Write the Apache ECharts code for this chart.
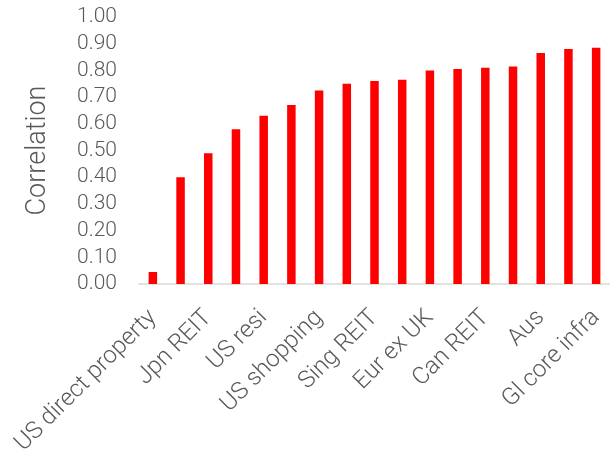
<!DOCTYPE html>
<html>
<head>
<meta charset="utf-8">
<script src="https://cdn.jsdelivr.net/npm/echarts@6/dist/echarts.min.js"></script>
<style>
  html, body { margin: 0; padding: 0; background: #ffffff; }
  #chart { width: 610px; height: 460px; }
</style>
</head>
<body>
<div id="chart"></div>
<script>
// Correlation of each market with the reference index, sorted ascending.
// Every second category name is shown on the axis.
const categories = [
  'US direct property', 'HK REIT', 'Jpn REIT', 'UK REIT', 'US resi', 'US office',
  'US shopping', 'US industrial', 'Sing REIT', 'US REIT', 'Eur ex UK', 'Eur REIT',
  'Can REIT', 'Gl REIT', 'Aus', 'Gl infra', 'Gl core infra'
];
const correlation = [
  0.045, 0.40, 0.49, 0.58, 0.63, 0.67, 0.725, 0.75, 0.76, 0.765,
  0.80, 0.805, 0.81, 0.815, 0.865, 0.88, 0.885
];
const yTicks = { min: 0, max: 1, interval: 0.1 };

const chart = echarts.init(document.getElementById('chart'), null, { renderer: 'canvas' });
const textColor = '#595959';
const font = 'Roboto, "Liberation Sans", sans-serif';

chart.setOption({
  animation: false,
  backgroundColor: '#ffffff',
  grid: { left: 139, right: -5, top: 17, bottom: 176, containLabel: false },
  xAxis: {
    type: 'category',
    data: categories,
    axisLine: { show: true, lineStyle: { color: '#d9d9d9', width: 1.5 } },
    axisTick: { show: false },
    axisLabel: {
      interval: 1,
      rotate: 45,
      margin: 30,
      color: textColor,
      fontFamily: font,
      fontWeight: 300,
      fontSize: 24
    }
  },
  yAxis: {
    type: 'value',
    min: yTicks.min,
    max: yTicks.max,
    interval: yTicks.interval,
    name: 'Correlation',
    nameLocation: 'middle',
    nameGap: 87,
    nameRotate: 90,
    nameTextStyle: { color: textColor, fontFamily: font, fontWeight: 300, fontSize: 27 },
    axisLine: { show: false },
    axisTick: { show: false },
    splitLine: { show: false },
    axisLabel: {
      margin: 22,
      color: textColor,
      fontFamily: font,
      fontWeight: 300,
      fontSize: 21,
      formatter: v => v.toFixed(2)
    }
  },
  series: [{
    type: 'bar',
    data: correlation,
    barWidth: 8.5,
    itemStyle: { color: '#ff0000' }
  }]
});
</script>
</body>
</html>
